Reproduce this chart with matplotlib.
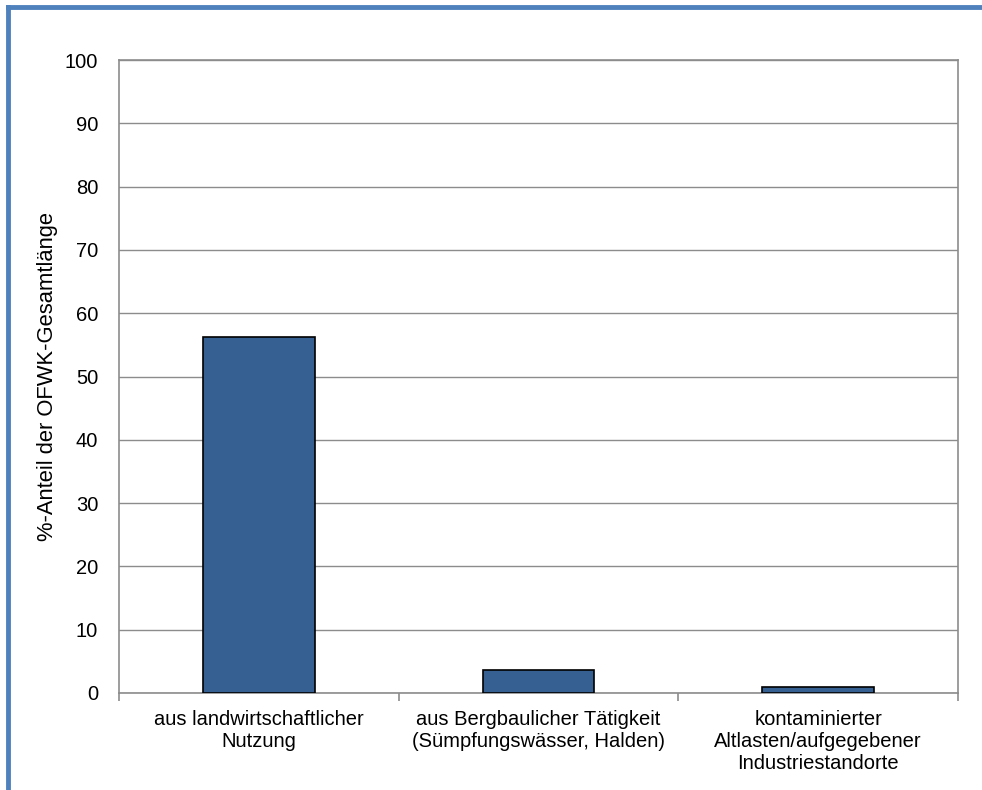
import matplotlib
matplotlib.use("Agg")
import matplotlib.pyplot as plt
from matplotlib.lines import Line2D
import numpy as np

categories = ["aus landwirtschaftlicher\nNutzung",
              "aus Bergbaulicher Tätigkeit\n(Sümpfungswässer, Halden)",
              "kontaminierter\nAltlasten/aufgegebener\nIndustriestandorte"]
values = [56.3, 3.7, 0.9]
yticks = list(range(0, 101, 10))

plt.rcParams['font.family'] = ['Liberation Sans', 'DejaVu Sans']

fig = plt.figure(figsize=(9.82, 7.90), dpi=100)
ax = fig.add_axes([119 / 982, 1 - 693 / 790, (958 - 119) / 982, (693 - 60) / 790])

x = np.arange(len(categories))
ax.bar(x, values, width=0.4, color="#376092", edgecolor="black", linewidth=1.2, zorder=3)

ax.set_xlim(-0.5, len(categories) - 0.5)
ax.set_ylim(0, 100)
ax.set_yticks(yticks)
ax.yaxis.grid(True, color="#8c8c8c", linewidth=1.0, zorder=0)

# category labels centered, ticks at boundaries
ax.set_xticks(x)
ax.set_xticklabels(categories, fontsize=14.5, linespacing=1.2)
ax.tick_params(axis="x", length=0, pad=12)
ax.set_xticks(np.arange(-0.5, len(categories), 1.0), minor=True)
ax.tick_params(axis="x", which="minor", length=6, color="#8c8c8c", width=1.2)
ax.tick_params(axis="y", labelsize=14.5, length=0, pad=15)

for s in ax.spines.values():
    s.set_color("#8c8c8c")
    s.set_linewidth(1.2)

ax.set_ylabel("%-Anteil der OFWK-Gesamtlänge", fontsize=15.8, labelpad=5)

# blue outer frame (top and left edges visible)
fig.add_artist(Line2D([8 / 982, 1.0], [1 - 7 / 790, 1 - 7 / 790], color="#4F81BD", linewidth=3.5,
                      transform=fig.transFigure))
fig.add_artist(Line2D([8 / 982, 8 / 982], [0.0, 1 - 7 / 790], color="#4F81BD", linewidth=3.5,
                      transform=fig.transFigure))

fig.savefig("out.png", dpi=100)
